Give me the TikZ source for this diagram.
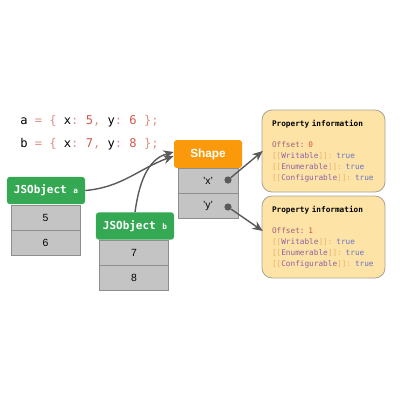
\documentclass[tikz,border=0pt]{standalone}
\usepackage{fontspec}
\setmainfont{Liberation Sans}
\setsansfont{Liberation Sans}
\setmonofont{DejaVu Sans Mono}
\usetikzlibrary{arrows.meta, positioning, calc}

\definecolor{jsgreen}{HTML}{34A853}
\definecolor{shapeorange}{HTML}{FA9A0A}
\definecolor{cellgray}{HTML}{C4C4C4}
\definecolor{celledge}{HTML}{8E8E8E}
\definecolor{propfill}{HTML}{FDE3A6}
\definecolor{propedge}{HTML}{A9A395}
\definecolor{linkgray}{HTML}{5A5A5A}
\definecolor{punct}{HTML}{DE8F86}
\definecolor{numred}{HTML}{D2574B}
\definecolor{keypurple}{HTML}{9160A0}
\definecolor{brackorange}{HTML}{EBB46A}
\definecolor{truecol}{HTML}{6A72C4}
\definecolor{offsetcol}{HTML}{A0607A}

% code and property text helpers
\newcommand{\pc}[1]{\textcolor{punct}{#1}}
\newcommand{\nm}[1]{\textcolor{numred}{#1}}
\newcommand{\slot}[1]{\textcolor{brackorange}{[[}\textcolor{keypurple}{#1}\textcolor{brackorange}{]]:} \textcolor{truecol}{true}}
\newcommand{\sq}{{\char"27}}

\begin{document}
\begin{tikzpicture}[
    x=0.25mm, y=-0.25mm,
    >=Stealth,
    objhead/.style={rectangle, rounded corners=2pt, fill=jsgreen, text=white, font=\ttfamily\bfseries\fontsize{7.8}{9}\selectfont, minimum width=19.5mm, minimum height=6.8mm, inner sep=0pt},
    shapehead/.style={rectangle, rounded corners=2pt, fill=shapeorange, text=white, font=\sffamily\bfseries\fontsize{8.4}{9}\selectfont, minimum width=17mm, minimum height=7mm, inner sep=0pt},
    cell/.style={rectangle, fill=cellgray, draw=celledge, line width=0.5pt, minimum width=17.25mm, minimum height=6.25mm, inner sep=0pt, font=\sffamily\fontsize{7.4}{8}\selectfont},
    propbox/.style={rectangle, rounded corners=2.5mm, fill=propfill, draw=propedge, line width=0.6pt, minimum width=30.75mm, minimum height=20.5mm, text width=25.75mm, inner xsep=2.5mm, align=left, font=\ttfamily\fontsize{5.5}{7.6}\selectfont},
    dot/.style={circle, fill=linkgray, inner sep=0pt, minimum size=1.8mm},
    code/.style={anchor=west, inner sep=0pt, font=\ttfamily\fontsize{8.6}{10}\selectfont},
    conn/.style={->, draw=linkgray, line width=1pt, arrows={-Stealth[length=2.6mm, width=2.2mm]}}
]
\useasboundingbox (0,0) rectangle (400,400);

% ---------- Code ----------
\node[code] (codeA) at (20,121) {a \pc{=} \pc{\{} x\pc{:} \nm{5}\pc{,} y\pc{:} \nm{6} \pc{\};}};
\node[code] (codeB) at (20,144) {b \pc{=} \pc{\{} x\pc{:} \nm{7}\pc{,} y\pc{:} \nm{8} \pc{\};}};

% ---------- JSObject a ----------
\node[objhead] (JSa) at (46,190.5) {JSObject {\fontsize{5.5}{6}\selectfont a}};
\node[cell] (a1) at (45.5,217.5) {5};
\node[cell] (a2) at (45.5,242.5) {6};

% ---------- JSObject b ----------
\node[objhead] (JSb) at (135,226) {JSObject {\fontsize{5.5}{6}\selectfont b}};
\node[cell] (b1) at (134,252.5) {7};
\node[cell] (b2) at (134,277.5) {8};

% ---------- Shape ----------
\node[shapehead] (Shape) at (208,154) {Shape};
\node[cell, minimum width=15mm] (sx) at (208,180.5) {\sq x\sq};
\node[cell, minimum width=15mm] (sy) at (208,205.5) {\sq y\sq};
\node[dot] (dx) at (228,180) {};
\node[dot] (dy) at (228,207) {};

% ---------- Property information ----------
\node[propbox] (P1) at (323.5,151) {\textbf{Property information}\\[7.6pt]
    \textcolor{offsetcol}{Offset:} \nm{0}\\
    \slot{Writable}\\
    \slot{Enumerable}\\
    \slot{Configurable}};
\node[propbox] (P2) at (323.5,237) {\textbf{Property information}\\[7.6pt]
    \textcolor{offsetcol}{Offset:} \nm{1}\\
    \slot{Writable}\\
    \slot{Enumerable}\\
    \slot{Configurable}};

% ---------- Connections ----------
\draw[conn] (JSa.east) to[out=5, in=200] ([yshift=-0.5mm]Shape.west);
\draw[conn] (JSb.north) to[out=82, in=195] ([yshift=0.5mm]Shape.west);
\draw[conn] (dx) -- ([xshift=0.3mm]P1.west);
\draw[conn] (dy) -- ([xshift=0.3mm, yshift=1.5mm]P2.west);

\end{tikzpicture}
\end{document}
